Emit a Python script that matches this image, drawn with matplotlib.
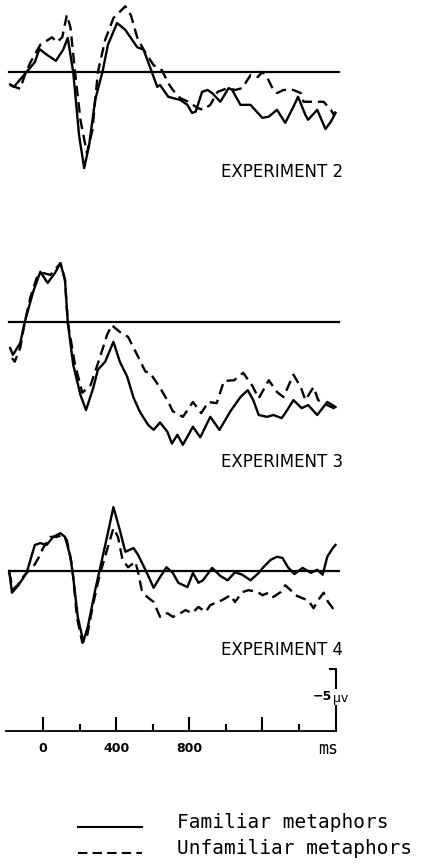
import matplotlib
matplotlib.use("Agg")
import matplotlib.pyplot as plt

# ERP waveforms (negative up), time in ms, amplitude in microvolts
# Experiment 2
t2_fam = [-180, -160, -90, -45, -20, 20, 70, 110, 135, 165, 197, 225, 252, 285, 325, 355, 405, 450,
          515, 550, 595, 625, 640, 685, 710, 750, 790, 815, 835, 870, 900, 925, 970, 1015, 1035,
          1080, 1135, 1200, 1235, 1280, 1325, 1370, 1395, 1435, 1450, 1500, 1545, 1575, 1600]
v2_fam = [1.0, 1.2, 0.0, -0.8, -1.85, -1.4, -0.9, -1.8, -2.75, 0.0, 5.1, 7.75, 5.9, 2.25, 0.0, -2.2,
          -3.95, -3.4, -2.0, -1.8, 0.0, 1.2, 1.05, 2.0, 2.1, 2.25, 2.65, 3.3, 3.2, 1.6, 1.45, 1.7, 2.4,
          1.3, 1.45, 2.65, 2.65, 3.7, 3.6, 3.05, 4.1, 2.8, 2.0, 3.45, 3.85, 3.05, 4.6, 4.0, 3.3]
t2_unf = [-180, -155, -125, -100, -70, -15, 50, 75, 105, 130, 150, 175, 205, 240, 270, 300, 340, 385,
          450, 480, 515, 550, 605, 650, 685, 710, 750, 795, 845, 875, 915, 955, 1010, 1050, 1090,
          1135, 1175, 1200, 1225, 1260, 1280, 1315, 1370, 1410, 1425, 1465, 1535, 1575, 1590, 1600]
v2_unf = [1.05, 1.2, 1.35, 0.25, -0.75, -2.2, -2.8, -2.4, -2.8, -4.6, -3.6, 0.0, 3.9, 6.55, 4.7, 0.0,
          -2.6, -4.35, -5.3, -4.6, -2.8, -1.8, -0.55, -0.15, 0.9, 1.45, 2.1, 2.4, 2.9, 3.05, 2.65, 1.6,
          1.3, 1.45, 1.3, 0.25, 0.4, 0.0, 0.4, 1.45, 1.7, 1.45, 1.45, 1.7, 2.4, 2.4, 2.4, 3.05, 3.45, 3.2]

# Experiment 3
t3_fam = [-180, -165, -125, -100, -55, -15, 25, 65, 95, 120, 135, 165, 205, 235, 275, 300, 340, 385,
          420, 460, 495, 530, 575, 605, 640, 680, 705, 735, 765, 820, 860, 915, 965, 1025, 1080,
          1120, 1150, 1180, 1225, 1260, 1305, 1325, 1370, 1415, 1450, 1500, 1555, 1600]
v3_fam = [2.1, 2.65, 1.7, 0.0, -2.4, -4.05, -3.15, -3.95, -4.75, -3.4, 0.0, 3.45, 5.9, 7.1, 5.3, 3.85,
          3.2, 1.6, 3.2, 4.4, 6.1, 7.25, 8.3, 8.7, 8.1, 8.85, 9.8, 9.1, 9.9, 8.45, 9.3, 7.65, 8.7, 7.2,
          6.05, 5.5, 6.3, 7.5, 7.65, 7.5, 7.75, 7.35, 6.3, 6.95, 6.7, 7.5, 6.45, 6.85]
t3_unf = [-170, -155, -125, -100, -70, -35, 0, 40, 65, 95, 120, 135, 175, 215, 260, 310, 350, 375,
          420, 465, 515, 560, 585, 640, 685, 710, 765, 820, 865, 905, 950, 990, 1045, 1095, 1145,
          1180, 1235, 1280, 1315, 1370, 1410, 1435, 1480, 1505, 1555, 1590, 1600]
v3_unf = [2.9, 3.2, 2.1, 0.0, -1.95, -3.55, -3.95, -3.8, -4.2, -4.75, -3.4, 0.0, 3.45, 5.7, 5.1, 2.9,
          1.05, 0.25, 0.8, 1.2, 2.65, 4.0, 4.1, 5.3, 6.45, 7.2, 7.65, 6.45, 7.35, 6.45, 6.55, 4.75,
          4.7, 4.1, 5.15, 6.15, 4.7, 5.65, 6.05, 4.25, 5.25, 6.3, 5.25, 6.3, 6.7, 6.95, 6.85]

# Experiment 4
t4_fam = [-185, -170, -135, -90, -45, -15, 20, 55, 95, 120, 150, 165, 190, 220, 245, 285, 310, 350,
          385, 420, 450, 495, 520, 560, 605, 640, 675, 710, 740, 790, 820, 850, 875, 925, 970, 1010,
          1050, 1090, 1135, 1180, 1205, 1245, 1280, 1310, 1340, 1375, 1420, 1465, 1500, 1530, 1555,
          1585, 1600]
v4_fam = [0.0, 1.75, 1.15, 0.15, -2.1, -2.25, -2.1, -2.75, -3.05, -2.75, -1.15, 0.5, 3.7, 5.7, 4.5,
          1.55, -0.1, -2.75, -5.15, -3.3, -1.55, -1.85, -1.3, -0.1, 1.35, 0.5, -0.3, 0.15, 0.95, 1.3,
          0.15, 0.95, 0.75, -0.25, 0.4, 0.75, 0.1, 0.3, 0.75, 0.15, -0.3, -0.9, -1.15, -1.05, -0.3,
          0.25, -0.25, 0.15, -0.1, 0.3, -1.15, -1.85, -2.1]
t4_unf = [-185, -165, -140, -110, -90, -55, -25, 0, 40, 75, 105, 130, 160, 185, 215, 240, 275, 310,
          350, 385, 410, 435, 465, 505, 520, 540, 570, 605, 640, 680, 710, 735, 780, 815, 850, 890,
          915, 980, 1025, 1050, 1090, 1125, 1175, 1200, 1235, 1260, 1300, 1325, 1355, 1380, 1420,
          1450, 1480, 1505, 1535, 1560, 1585, 1600]
v4_unf = [0.1, 1.5, 1.15, 0.5, 0.15, -0.3, -1.05, -1.85, -2.75, -2.75, -2.9, -2.5, -0.3, 3.7, 5.8,
          5.3, 2.6, 0.3, -1.7, -3.45, -2.75, -0.9, -0.3, -0.75, 0.1, 1.55, 2.1, 2.5, 3.7, 3.4, 3.7,
          3.55, 3.15, 3.4, 2.9, 3.3, 2.75, 2.35, 1.95, 2.5, 1.7, 1.55, 1.7, 1.95, 1.75, 2.1, 1.7,
          1.15, 1.55, 1.95, 2.2, 2.35, 3.0, 2.35, 1.75, 2.5, 3.0, 2.9]

titles = ["EXPERIMENT 2", "EXPERIMENT 3", "EXPERIMENT 4"]
major_ticks = [0, 400, 800, 1200]
major_labels = ["0", "400", "800", ""]
minor_ticks = [200, 600, 1000, 1400]
scale_uv = -5
legend_labels = ["Familiar metaphors", "Unfamiliar metaphors"]

W, H = 426, 865
PX_UV = 12.4          # pixels per microvolt
X0, X1 = 6.5, 335.5   # pixel position of -200 ms and 1600 ms
DASH = (0, (4.5, 2.5))

fig = plt.figure(figsize=(W / 100, H / 100), dpi=100)


def make_ax(top, bot, base):
    ax = fig.add_axes([X0 / W, 1 - bot / H, (X1 - X0) / W, (bot - top) / H])
    ax.set_xlim(-200, 1600)
    ax.set_ylim((bot - base) / PX_UV, (top - base) / PX_UV)
    return ax


cond = ["Liberation Sans Narrow", "DejaVu Sans"]
panels = [(0, 180, 72, t2_fam, v2_fam, t2_unf, v2_unf, 172),
          (250, 470, 322, t3_fam, v3_fam, t3_unf, v3_unf, 462),
          (490, 665, 571, t4_fam, v4_fam, t4_unf, v4_unf, 650)]
for i, (top, bot, base, tf, vf, tu, vu, ty) in enumerate(panels):
    ax = make_ax(top, bot, base)
    ax.axis('off')
    ax.plot([-185, 1620], [0, 0], color='k', lw=1.6, clip_on=False)
    ax.plot(tf, vf, color='k', lw=1.7, clip_on=False, solid_joinstyle='round')
    ax.plot(tu, vu, color='k', lw=1.7, ls=DASH, clip_on=False)
    fig.text(343 / W, 1 - ty / H, titles[i], ha='right', va='center', fontsize=12,
             family=cond)

# time axis with calibration bar
ax = make_ax(655, 780, 731)
for s in ['top', 'left', 'right']:
    ax.spines[s].set_visible(False)
ax.spines['bottom'].set_position(('data', 0))
ax.spines['bottom'].set_linewidth(1.3)
ax.set_yticks([])
ax.set_xticks(major_ticks)
ax.set_xticklabels(major_labels, fontsize=9, fontweight='bold', family=cond)
ax.set_xticks(minor_ticks, minor=True)
ax.tick_params(axis='x', which='major', direction='in', length=10, width=1.5, pad=8)
ax.tick_params(axis='x', which='minor', direction='in', length=5, width=1.5)
ax.plot([1600, 1600], [0, scale_uv * 0.4], color='k', lw=1.5, clip_on=False)
ax.plot([1600, 1600, 1570], [scale_uv * 0.7, scale_uv, scale_uv], color='k', lw=1.5, clip_on=False)
ax.text(1580, scale_uv * 0.55, "\u22125", ha='right', va='center', fontsize=9, fontweight='bold',
        family=cond)
ax.text(1585, scale_uv * 0.52, "\u03bcv", ha='left', va='center', fontsize=9, family='DejaVu Sans')
ax.text(1560, 0.75, "ms", ha='center', va='top', fontsize=12, family='DejaVu Sans Mono')

# legend
fig.lines.append(plt.Line2D([78 / W, 142 / W], [1 - 827 / H, 1 - 827 / H], color='k', lw=1.5,
                            transform=fig.transFigure))
fig.lines.append(plt.Line2D([78 / W, 142 / W], [1 - 853 / H, 1 - 853 / H], color='k', lw=1.5,
                            ls=DASH, transform=fig.transFigure))
fig.text(177 / W, 1 - 822 / H, legend_labels[0], ha='left', va='center', fontsize=14,
         family='DejaVu Sans Mono')
fig.text(177 / W, 1 - 848 / H, legend_labels[1], ha='left', va='center', fontsize=14,
         family='DejaVu Sans Mono')

fig.savefig("out.png", dpi=100)
